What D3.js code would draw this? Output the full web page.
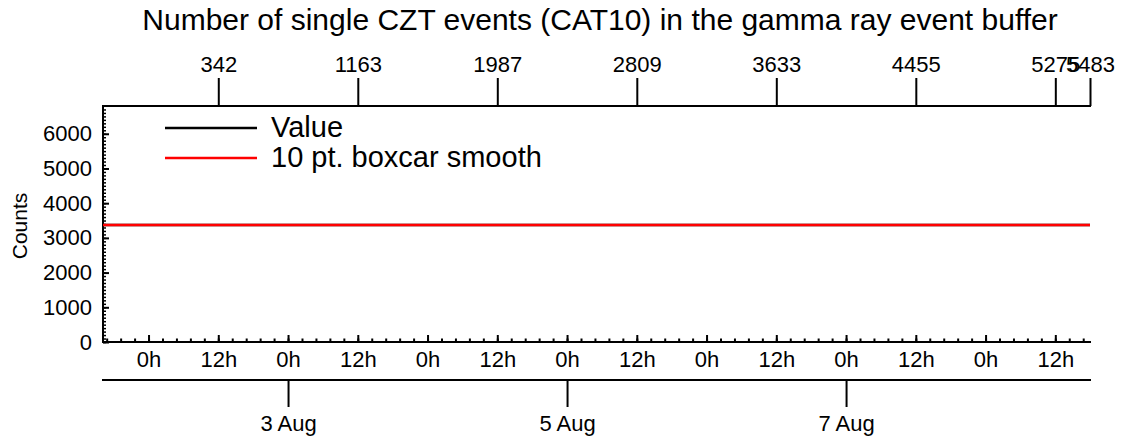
<!DOCTYPE html>
<html>
<head>
<meta charset="utf-8">
<script src="https://cdn.jsdelivr.net/npm/d3@7"></script>
<style>
  body { margin: 0; background: #fff; }
  svg { font-family: "Liberation Sans", Arial, sans-serif; }
</style>
</head>
<body>
<svg id="chart"></svg>
<script>
// data
var sampleTimes = ["2024-08-01T16:10Z", "2024-08-03T00:00Z", "2024-08-05T00:00Z", "2024-08-07T00:00Z", "2024-08-08T17:58Z"];
var values = [3370, 3370, 3370, 3370, 3370];
var smoothed = [3370, 3370, 3370, 3370, 3370];

// top axis: sample index at given times
var indexTimes = ["2024-08-02T12:00Z", "2024-08-03T12:00Z", "2024-08-04T12:00Z", "2024-08-05T12:00Z",
                  "2024-08-06T12:00Z", "2024-08-07T12:00Z", "2024-08-08T12:00Z", "2024-08-08T17:58Z"];
var indexLabels = ["342", "1163", "1987", "2809", "3633", "4455", "5275", "5483"];

var dateTicks = ["2024-08-03T00:00Z", "2024-08-05T00:00Z", "2024-08-07T00:00Z"];
var yTicks = [0, 1000, 2000, 3000, 4000, 5000, 6000];

var legendNames = ["Value", "10 pt. boxcar smooth"];
var legendColors = ["black", "red"];

var width = 1124, height = 439;
var plotLeft = 103, plotRight = 1090, plotTop = 106, plotBottom = 342;

var svg = d3.select("#chart")
    .attr("width", width)
    .attr("height", height);

var parse = function(s) { return new Date(s); };
var start = parse(sampleTimes[0]), end = parse(sampleTimes[sampleTimes.length - 1]);

var x = d3.scaleUtc().domain([start, end]).range([plotLeft, plotRight]);
var y = d3.scaleLinear().domain([0, 6800]).range([plotBottom, plotTop]);

var styleAxis = function(g) {
    g.selectAll("line").attr("stroke-width", 2);
    g.selectAll("text").style("font-size", "22px").attr("fill", "black");
};

// title
svg.append("text")
    .attr("x", 600)
    .attr("y", 30)
    .attr("text-anchor", "middle")
    .style("font-size", "30px")
    .text("Number of single CZT events (CAT10) in the gamma ray event buffer");

// y axis, minor ticks every 100
var yMinor = d3.range(0, 6800, 100);
svg.append("g")
    .attr("transform", "translate(" + plotLeft + ",0)")
    .call(d3.axisLeft(y).tickValues(yMinor).tickSize(-3).tickFormat(""))
    .call(function(g) { g.select(".domain").remove(); })
    .selectAll("line").attr("stroke-width", 1.5);

svg.append("g")
    .attr("transform", "translate(" + plotLeft + ",0)")
    .call(d3.axisLeft(y).tickValues(yTicks).tickSize(-6).tickPadding(11).tickSizeOuter(0)
        .tickFormat(d3.format("d")))
    .call(function(g) { g.select(".domain").remove(); })
    .call(styleAxis);

svg.append("text")
    .attr("transform", "translate(27,226) rotate(-90)")
    .attr("text-anchor", "middle")
    .style("font-size", "21px")
    .text("Counts");

// bottom hour axis
var hourTicks = d3.utcHour.every(12).range(start, end);
var minorTicks = [];
d3.utcDay.range(d3.utcDay.floor(start), end).forEach(function(d) {
    for (var i = 0; i < 10; i++) {
        var t = new Date(+d + i * 2.4 * 3600 * 1000);
        if (t >= start && t <= end) minorTicks.push(t);
    }
});

svg.append("g")
    .attr("transform", "translate(0," + plotBottom + ")")
    .call(d3.axisBottom(x).tickValues(minorTicks).tickSize(-3.5).tickFormat(""))
    .call(function(g) { g.select(".domain").remove(); })
    .selectAll("line").attr("stroke-width", 2);

svg.append("g")
    .attr("transform", "translate(0," + plotBottom + ")")
    .call(d3.axisBottom(x).tickValues(hourTicks).tickSize(-7).tickPadding(9).tickSizeOuter(0)
        .tickFormat(function(d) { return d.getUTCHours() + "h"; }))
    .call(function(g) { g.select(".domain").attr("d", "M" + (plotLeft - 1) + ",0H" + (plotRight + 1)).attr("stroke-width", 2); })
    .call(styleAxis);

// date axis below
svg.append("g")
    .attr("transform", "translate(0,380)")
    .call(d3.axisBottom(x).tickValues(dateTicks.map(parse)).tickSize(27).tickPadding(8).tickSizeOuter(0)
        .tickFormat(d3.utcFormat("%-d %b")))
    .call(function(g) { g.select(".domain").attr("d", "M" + (plotLeft - 1) + ",0H" + (plotRight + 1)).attr("stroke-width", 2); })
    .call(styleAxis);

// top index axis
svg.append("g")
    .attr("transform", "translate(0," + plotTop + ")")
    .call(d3.axisTop(x).tickValues(indexTimes.map(parse)).tickSize(28).tickPadding(6).tickSizeOuter(0)
        .tickFormat(function(d, i) { return indexLabels[i]; }))
    .call(function(g) { g.select(".domain").attr("d", "M" + (plotLeft - 1) + ",0H" + (plotRight + 1)).attr("stroke-width", 2); })
    .call(styleAxis);

// left border line
svg.append("line")
    .attr("x1", plotLeft).attr("x2", plotLeft)
    .attr("y1", plotTop - 1).attr("y2", plotBottom + 1)
    .attr("stroke", "black").attr("stroke-width", 2);

// data lines
var line = d3.line()
    .x(function(d) { return x(parse(d.t)); })
    .y(function(d) { return y(d.v); });

svg.append("path")
    .datum(sampleTimes.map(function(t, i) { return { t: t, v: values[i] }; }))
    .attr("d", line)
    .attr("fill", "none").attr("stroke", "black").attr("stroke-width", 2.5);

svg.append("path")
    .datum(sampleTimes.map(function(t, i) { return { t: t, v: smoothed[i] }; }))
    .attr("d", line)
    .attr("fill", "none").attr("stroke", "red").attr("stroke-width", 2.5);

// legend
var legend = svg.selectAll(".legend")
    .data(legendNames)
    .enter().append("g")
    .attr("class", "legend")
    .attr("transform", function(d, i) { return "translate(165," + (128 + i * 30) + ")"; });

legend.append("line")
    .attr("x1", 0).attr("x2", 92)
    .attr("stroke", function(d, i) { return legendColors[i]; })
    .attr("stroke-width", 2.5);

legend.append("text")
    .attr("x", 106)
    .attr("y", 9)
    .style("font-size", "29px")
    .text(function(d) { return d; });
</script>
</body>
</html>
